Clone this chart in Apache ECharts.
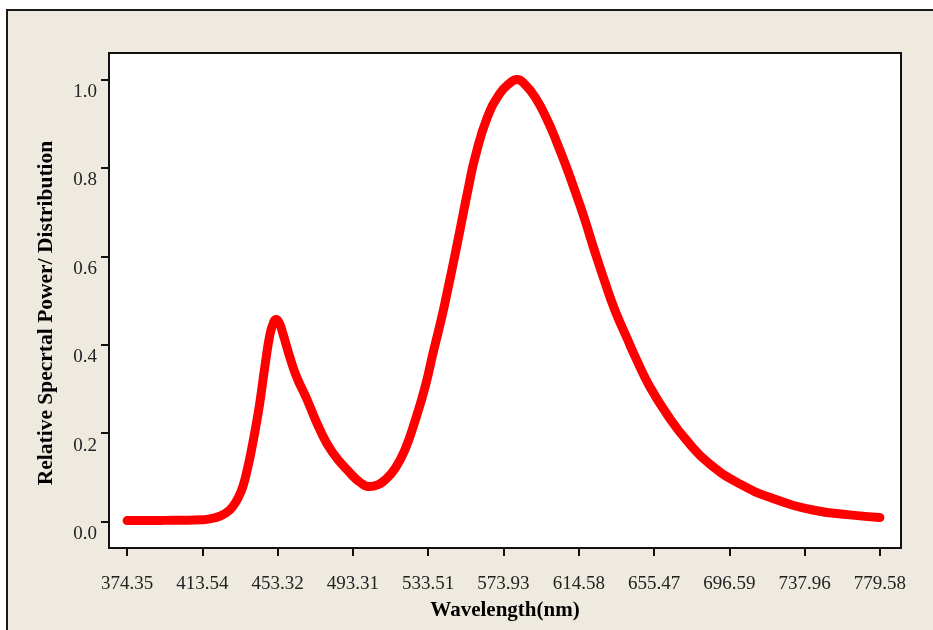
<!DOCTYPE html>
<html><head><meta charset="utf-8">
<script src="https://cdn.jsdelivr.net/npm/echarts@6/dist/echarts.min.js"></script>
<style>html,body{margin:0;padding:0;background:#fff}#c{width:933px;height:630px}</style>
</head><body><div id="c"></div>
<script>
// x tick labels (wavelength, nm) at sample positions
const tickLabels = ['374.35','413.54','453.32','493.31','533.51','573.93','614.58','655.47','696.59','737.96','779.58'];
const tickIndex = [0,100,200,300,400,500,600,700,800,900,1000];
const yTicks = [0,0.2,0.4,0.6,0.8,1.0];
// spectrum samples (sample index along the wavelength axis) and relative power
const sampleIndex = [0,20,40,60,80,100,110,123,132,140,148,154,160,165,170,176,183,190,195,198,202,207,216,225,239,256,273,296,310,322,333,342,356,369,382,396,406,418,426,437,446,454,462,478,495,507,518,528,542,558,571,584,598,608,621,635,648,664,677,694,717,744,774,814,858,911,960,1000];
const relPower = [0.002,0.002,0.002,0.003,0.003,0.004,0.006,0.012,0.02,0.033,0.055,0.08,0.12,0.16,0.205,0.265,0.35,0.425,0.452,0.457,0.45,0.425,0.373,0.328,0.276,0.208,0.156,0.110,0.088,0.079,0.083,0.093,0.120,0.162,0.225,0.305,0.378,0.462,0.525,0.615,0.692,0.760,0.822,0.912,0.968,0.990,1.0,0.99,0.96,0.909,0.857,0.800,0.733,0.683,0.612,0.540,0.478,0.415,0.365,0.306,0.243,0.182,0.130,0.085,0.052,0.026,0.015,0.009];

const chart = echarts.init(document.getElementById('c'), null, {renderer:'canvas'});
const serif = '"Liberation Serif", "Times New Roman", serif';
chart.setOption({
  backgroundColor: '#ffffff',
  animation: false,
  graphic: [
    {type:'rect', z:-10, shape:{x:7,y:10,width:960,height:660}, style:{fill:'#eeeae0', stroke:'#1a1a1a', lineWidth:2}},
    {type:'text', z:10, x:46, y:313, rotation:Math.PI/2, style:{text:'Relative Specrtal Power/ Distribution', font:'bold 21.5px ' + serif, fill:'#000', align:'center', verticalAlign:'middle'}}
  ],
  grid: {left:109, right:32, top:53, bottom:82, show:true, backgroundColor:'#ffffff', borderColor:'#111', borderWidth:2},
  xAxis: {
    type:'value', min:-24, max:1028,
    name:'Wavelength(nm)', nameLocation:'middle', nameGap:63,
    nameTextStyle:{fontFamily:serif, fontWeight:'bold', fontSize:21, color:'#000', verticalAlign:'middle'},
    axisLine:{show:true, onZero:false, lineStyle:{color:'#111', width:2}},
    axisTick:{show:true, length:8, customValues:tickIndex, lineStyle:{color:'#111', width:2}},
    axisLabel:{customValues:tickIndex, margin:27, fontFamily:serif, fontSize:19, color:'#222',
      formatter:(v)=>{const i=tickIndex.indexOf(Math.round(v)); return i>=0?tickLabels[i]:'';}},
    splitLine:{show:false}
  },
  yAxis: {
    type:'value', min:-0.06, max:1.06,
    axisLine:{show:true, onZero:false, lineStyle:{color:'#111', width:2}},
    axisTick:{show:true, length:8, customValues:yTicks, lineStyle:{color:'#111', width:2}},
    axisLabel:{customValues:yTicks, margin:12, fontFamily:serif, fontSize:19, color:'#222', verticalAlign:'top', padding:[3,0,0,0],
      formatter:(v)=>v.toFixed(1)},
    splitLine:{show:false}
  },
  series: [{
    type:'line', data: sampleIndex.map((s,i)=>[s, relPower[i]]),
    showSymbol:false, smooth:0.5,
    lineStyle:{color:'#ff0000', width:9, cap:'round', join:'round'},
    itemStyle:{color:'#ff0000'}
  }]
});
</script></body></html>
